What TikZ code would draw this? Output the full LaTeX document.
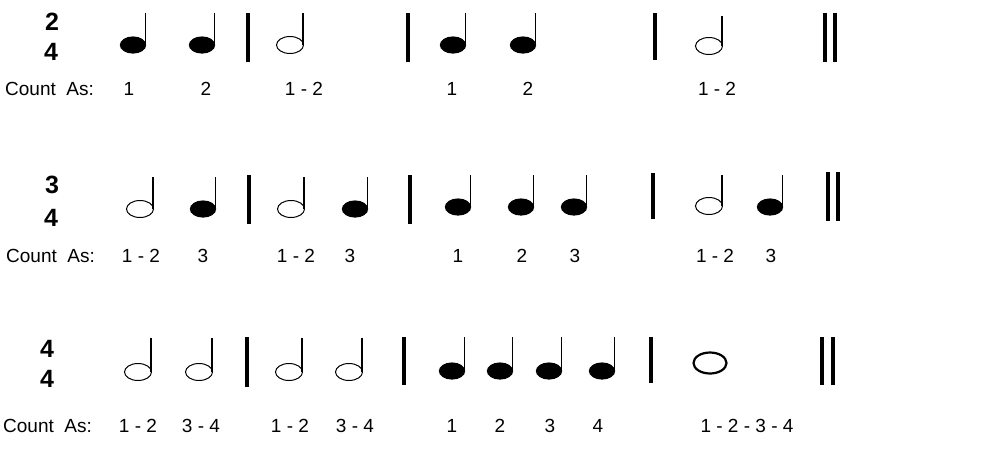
\documentclass[tikz,border=0pt]{standalone}
\usepackage{fontspec}
\setmainfont{Liberation Sans}
\newcommand\myqn[3]{\fill (#1,#2) ellipse [x radius=13.2pt,y radius=8.6pt]; \draw[stem] ({#1+12.6},#2) -- ({#1+12.6},#3);}
\newcommand\myhn[3]{\draw[hhead] (#1,#2) ellipse [x radius=13.5pt,y radius=8.5pt]; \draw[stem] ({#1+13},#2) -- ({#1+13},#3);}
\newcommand\mybar[3]{\draw[barline] (#1,#2) -- (#1,#3);}
\begin{document}
\begin{tikzpicture}[x=1pt,y=-1pt,
  stem/.style={line width=1.2pt},
  barline/.style={line width=3.5pt},
  hhead/.style={line width=1pt},
  whead/.style={line width=2.2pt},
  cnt/.style={anchor=base,inner sep=0pt,font=\fontsize{19}{21}\selectfont},
  cntlab/.style={cnt,anchor=base west},
  tsig/.style={inner sep=0pt,font=\fontsize{25}{28}\selectfont\bfseries}]
\useasboundingbox (0,0) rectangle (1006,456);
% ---------- Row 1 ----------
\node[tsig] (ts1a) at (52,22) {2};
\node[tsig] (ts1b) at (51,52) {4};
\myqn{133}{45}{13}
\myqn{202}{45}{13}
\mybar{248}{13}{62}
\myhn{290}{45}{13}
\mybar{408}{13}{62}
\myqn{453}{45}{13}
\myqn{523}{45}{13}
\mybar{655}{13}{60}
\myhn{709}{46}{16}
\mybar{825}{13}{62}
\mybar{835}{13}{62}
\node[cntlab] (c1) at (5,95) {Count\ \ As:};
\node[cnt] (c1a) at (129,95) {1};
\node[cnt] (c1b) at (206,95) {2};
\node[cnt] (c1c) at (304,95) {1 - 2};
\node[cnt] (c1d) at (452,95) {1};
\node[cnt] (c1e) at (528,95) {2};
\node[cnt] (c1f) at (717,95) {1 - 2};
% ---------- Row 2 ----------
\node[tsig] (ts2a) at (52,185) {3};
\node[tsig] (ts2b) at (51,218) {4};
\myhn{140}{209}{177}
\myqn{203}{209}{177}
\mybar{249}{175}{224}
\myhn{291}{209}{177}
\myqn{355}{209}{177}
\mybar{410}{175}{224}
\myqn{458}{207}{175}
\myqn{521}{207}{175}
\myqn{574}{207}{175}
\mybar{653}{173}{219}
\myhn{709}{206}{175}
\myqn{770}{207}{175}
\mybar{828}{172}{221}
\mybar{838}{172}{221}
\node[cntlab] (c2) at (6,262) {Count\ \ As:};
\node[cnt] (c2a) at (141,262) {1 - 2};
\node[cnt] (c2b) at (203,262) {3};
\node[cnt] (c2c) at (296,262) {1 - 2};
\node[cnt] (c2d) at (350,262) {3};
\node[cnt] (c2e) at (458,262) {1};
\node[cnt] (c2f) at (522,262) {2};
\node[cnt] (c2g) at (575,262) {3};
\node[cnt] (c2h) at (715,262) {1 - 2};
\node[cnt] (c2i) at (771,262) {3};
% ---------- Row 3 ----------
\node[tsig] (ts3a) at (47,349) {4};
\node[tsig] (ts3b) at (47,379) {4};
\myhn{138}{372}{338}
\myhn{199}{372}{338}
\mybar{247}{337}{387}
\myhn{289}{372}{338}
\myhn{349}{372}{338}
\mybar{404}{337}{385}
\myqn{452}{371}{337}
\myqn{500}{371}{337}
\myqn{549}{371}{337}
\myqn{602}{371}{337}
\mybar{651}{337}{383}
\draw[whead] (710,363) ellipse [x radius=16.5pt,y radius=10.5pt];
\mybar{822}{337}{385}
\mybar{833}{337}{385}
\node[cntlab] (c3) at (3,432) {Count\ \ As:};
\node[cnt] (c3a) at (138,432) {1 - 2};
\node[cnt] (c3b) at (201,432) {3 - 4};
\node[cnt] (c3c) at (290,432) {1 - 2};
\node[cnt] (c3d) at (355,432) {3 - 4};
\node[cnt] (c3e) at (452,432) {1};
\node[cnt] (c3f) at (500,432) {2};
\node[cnt] (c3g) at (550,432) {3};
\node[cnt] (c3h) at (598,432) {4};
\node[cnt] (c3i) at (747,432) {1 - 2 - 3 - 4};
\end{tikzpicture}
\end{document}
